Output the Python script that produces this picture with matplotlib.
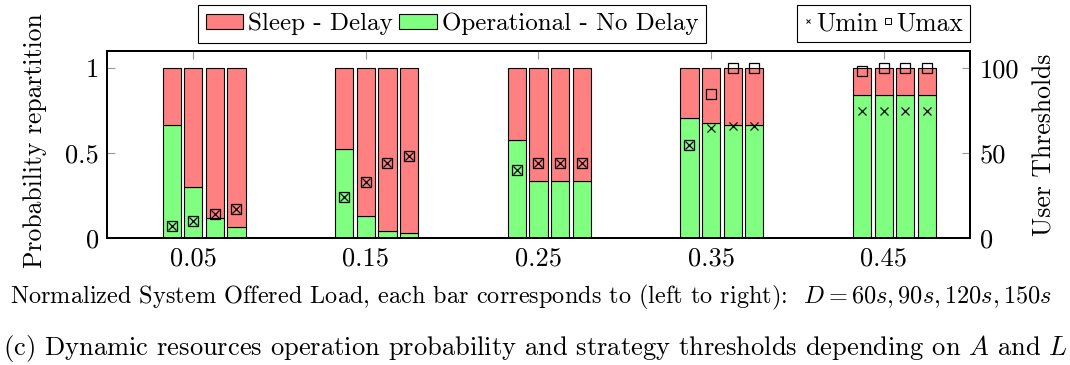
import matplotlib
matplotlib.use("Agg")
import matplotlib.pyplot as plt
from matplotlib.patches import Patch
from matplotlib.lines import Line2D
import numpy as np

plt.rcParams['font.family'] = 'serif'
plt.rcParams['font.serif'] = ['cmr10', 'DejaVu Serif']
plt.rcParams['mathtext.fontset'] = 'cm'
plt.rcParams['axes.formatter.use_mathtext'] = True

loads = [0.05, 0.15, 0.25, 0.35, 0.45]
delays = ['60s', '90s', '120s', '150s']

# probability of being operational (no delay), one list per D
p_oper = [
    [0.663, 0.523, 0.577, 0.705, 0.843],
    [0.303, 0.127, 0.338, 0.679, 0.843],
    [0.115, 0.041, 0.338, 0.663, 0.843],
    [0.066, 0.029, 0.338, 0.663, 0.843],
]
# user thresholds
umin = [
    [7, 24, 40, 55, 75],
    [10, 33, 44, 65, 75],
    [14, 44, 44, 66, 75],
    [17, 48, 44, 66, 75],
]
umax = [
    [7, 24, 40, 55, 98],
    [10, 33, 44, 85, 100],
    [14, 44, 44, 100, 100],
    [17, 48, 44, 100, 100],
]

red = '#ff8080'
green = '#80ff80'
fs_tick = 19
fs_lab = 18.5
fs_leg = 18

fig = plt.figure(figsize=(10.7, 3.65), dpi=100)
ax = fig.add_axes([0.1, 0.348, 0.8065, 0.512])
ax2 = ax.twinx()

offsets = [-0.0125, 0.0, 0.0125, 0.025]
width = 0.0105
x = np.array(loads)
for i in range(4):
    op = np.array(p_oper[i])
    ax.bar(x + offsets[i], op, width, color=green, edgecolor='black', linewidth=0.8)
    ax.bar(x + offsets[i], 1 - op, width, bottom=op, color=red, edgecolor='black', linewidth=0.8)
    ax2.plot(x + offsets[i], umin[i], ls='none', marker='x', ms=5.5, mew=0.9, color='black')
    ax2.plot(x + offsets[i], umax[i], ls='none', marker='s', ms=6.5, mew=0.9, mfc='none', mec='black')

ax.set_xlim(0, 0.5)
ax.set_ylim(0, 1.1)
ax2.set_ylim(0, 110)
ax.set_axisbelow(True)

ax.set_xticks(loads)
ax.set_xticklabels(['0.05', '0.15', '0.25', '0.35', '0.45'], fontsize=fs_tick)
ax.set_yticks([0, 0.5, 1])
ax.set_yticklabels(['0', '0.5', '1'], fontsize=fs_tick)
ax2.set_yticks([0, 50, 100])
ax2.set_yticklabels(['0', '50', '100'], fontsize=fs_tick)

ax.tick_params(axis='both', direction='in', length=6, color='#999999', width=0.8,
               top=True, bottom=True, left=True, right=False, pad=6)
ax2.tick_params(axis='y', direction='in', length=6, color='#999999', width=0.8, pad=7)

for a in (ax, ax2):
    for s in a.spines.values():
        s.set_linewidth(1.4)

ax.set_ylabel('Probability repartition', fontsize=fs_lab, va='center')
ax.yaxis.set_label_coords(-0.083, 0.52)
ax2.set_ylabel('User Thresholds', fontsize=fs_lab, va='center')
ax2.yaxis.set_label_coords(1.087, 0.5)
ax.set_xlabel(r'Normalized System Offered Load, each bar corresponds to (left to right):  '
              r'$D = 60s, 90s, 120s, 150s$', fontsize=17.5, va='center')
ax.xaxis.set_label_coords(0.491, -0.316)

fig.text(0.003, 0.027, r'(c) Dynamic resources operation probability and strategy thresholds '
         r'depending on $A$ and $L$', fontsize=19.1, ha='left', va='baseline')

h1 = [Patch(facecolor=red, edgecolor='black', linewidth=0.8),
      Patch(facecolor=green, edgecolor='black', linewidth=0.8)]
leg1 = fig.legend(h1, ['Sleep - Delay', 'Operational - No Delay'], ncol=2,
                  loc='upper left', bbox_to_anchor=(198 / 1070, 1 - 5 / 365), fontsize=fs_leg,
                  fancybox=False, edgecolor='black', framealpha=1,
                  handlelength=1.5, handleheight=0.55, handletextpad=0.2,
                  columnspacing=0.25, borderpad=0.3, borderaxespad=0)
leg1.get_frame().set_linewidth(0.8)

h2 = [Line2D([], [], ls='none', marker='x', ms=3.5, mew=0.7, color='black'),
      Line2D([], [], ls='none', marker='s', ms=4.5, mew=0.7, mfc='none', mec='black')]
leg2 = fig.legend(h2, ['Umin', 'Umax'], ncol=2, loc='upper right',
                  bbox_to_anchor=(970 / 1070, 1 - 5 / 365), fontsize=18.5,
                  fancybox=False, edgecolor='black', framealpha=1,
                  handlelength=0.35, handletextpad=0.15, columnspacing=0.2,
                  borderpad=0.25, borderaxespad=0)
leg2.get_frame().set_linewidth(0.8)

fig.savefig('out.png', dpi=100)
